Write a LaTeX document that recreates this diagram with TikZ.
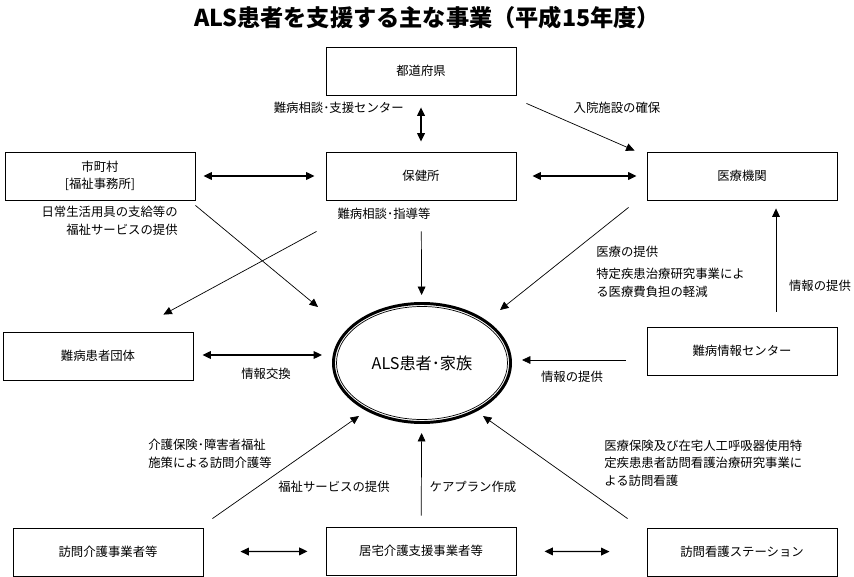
\documentclass[tikz,border=0pt]{standalone}
\usepackage{fontspec}
\setmainfont{Noto Sans CJK JP}
\usetikzlibrary{arrows.meta,shapes.geometric}

\begin{document}
\begin{tikzpicture}[
    x=0.025cm, y=-0.025cm,
    every node/.style={font=\fontsize{8.8}{12.5}\selectfont},
    box/.style={draw, line width=0.6pt, minimum width=4.75cm, minimum height=1.2cm, inner sep=0pt, align=center},
    lbl/.style={inner sep=0pt},
    arr/.style={-{Triangle[length=6pt,width=5.5pt]}, line width=0.5pt},
    biarr/.style={{Triangle[length=6pt,width=5.5pt]}-{Triangle[length=6pt,width=5.5pt]}, line width=0.9pt}
]
\useasboundingbox (0,0) rectangle (854,577);
\node[lbl, font=\bfseries\fontsize{16.5}{18}\selectfont] (title) at (427,18) {ALS患者を支援する主な事業（平成15年度）};

\node[box] (pref) at (421,71) {都道府県};
\node[box] (city) at (100,176) {市町村\\{}[福祉事務所]};
\node[box] (hc) at (421,176) {保健所};
\node[box] (hosp) at (742,176) {医療機関};
\node[box] (grp) at (98,356) {難病患者団体};
\node[box] (info) at (742,351) {難病情報センター};
\node[box] (vcare) at (108,552) {訪問介護事業者等};
\node[box] (kyo) at (421,551) {居宅介護支援事業者等};
\node[box] (stat) at (742,552) {訪問看護ステーション};
\node[draw, ellipse, line width=2.1pt, minimum width=4.425cm, minimum height=2.975cm, inner sep=0pt, font=\fontsize{11.5}{13}\selectfont] (als) at (422,363) {ALS患者･家族};
\draw[line width=0.5pt] (als.center) ellipse [x radius=2.1375cm, y radius=1.4125cm];

\draw[biarr, shorten <=0.3cm, shorten >=0.25cm] (pref) -- (hc);
\draw[arr] ([shift={(10,8)}]pref.south east) -- ([shift={(-12,-1)}]hosp.north west);
\draw[biarr, shorten <=0.2cm, shorten >=0.275cm] (city) -- (hc);
\draw[biarr, shorten <=0.4cm, shorten >=0.25cm] (hc) -- (hosp);
\draw[arr] ([shift={(0,5)}]city.south east) -- ([shift={(-104,-56)}]als.center);
\draw[arr] ([shift={(-9,31)}]hc.south west) -- ([shift={(-30,-17)}]grp.north east);
\draw[arr, shorten <=0.775cm, shorten >=0.175cm] (hc) -- (als);
\draw[arr] ([shift={(-18,7)}]hosp.south west) -- ([shift={(78,-53)}]als.center);
\draw[arr] ([shift={(34,-15)}]info.north) -- ([shift={(34,8)}]hosp.south);
\draw[biarr] ([shift={(9,-1)}]grp.east) -- ([shift={(-10,-8)}]als.west);
\draw[arr] ([shift={(-21,9)}]info.west) -- ([shift={(10,-3)}]als.east);
\draw[arr] ([shift={(9,-9)}]vcare.north east) -- ([shift={(-63,53)}]als.center);
\draw[arr, shorten <=0.275cm, shorten >=0.225cm] (kyo) -- (als);
\draw[arr] ([shift={(-19,-9)}]stat.north west) -- ([shift={(61,53)}]als.center);
\draw[biarr, shorten <=0.925cm, shorten >=0.45cm] (vcare) -- (kyo);
\draw[biarr, shorten <=0.7cm, shorten >=0.925cm] (kyo) -- (stat);

\node[lbl, anchor=east] (centerlbl) at (404,108) {難病相談･支援センター};
\node[lbl] (bedlbl) at (617,108) {入院施設の確保};
\node[lbl, align=right, anchor=east] (goodslbl) at (178,221) {日常生活用具の支給等の\\福祉サービスの提供};
\node[lbl] (guidelbl) at (384,214) {難病相談･指導等};
\node[lbl, anchor=west] (medlbl) at (596,252) {医療の提供};
\node[lbl, align=left, anchor=west] (costlbl) at (596,283) {特定疾患治療研究事業によ\\る医療費負担の軽減};
\node[lbl] (hospinfolbl) at (820,286) {情報の提供};
\node[lbl] (xchglbl) at (266,374) {情報交換};
\node[lbl] (alsinfolbl) at (572,377) {情報の提供};
\node[lbl, align=left] (carelbl) at (210,454) {介護保険･障害者福祉\\施策による訪問介護等};
\node[lbl] (welflbl) at (334,487) {福祉サービスの提供};
\node[lbl] (planlbl) at (473,487) {ケアプラン作成};
\node[lbl, align=left, anchor=west] (nurselbl) at (604,463) {医療保険及び在宅人工呼吸器使用特\\定疾患患者訪問看護治療研究事業に\\よる訪問看護};
\end{tikzpicture}
\end{document}
